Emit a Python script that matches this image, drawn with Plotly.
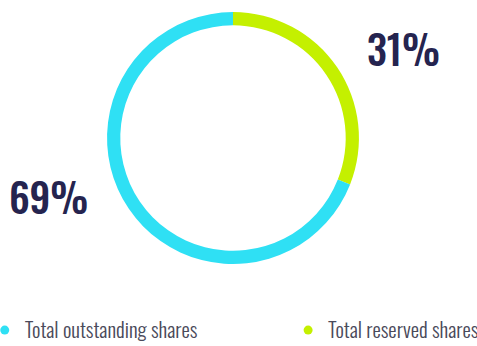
import plotly.graph_objects as go

# Share breakdown
categories = ["Total outstanding shares", "Total reserved shares"]
shares_pct = [69, 31]
colors = ["#2fe0f4", "#c4f000"]

TEXT_COLOR = "#25244f"
FONT = "Oswald, Roboto Condensed, sans-serif"

fig = go.Figure()

# Ring: reserved slice starts at 12 o'clock and runs clockwise
fig.add_trace(go.Pie(
    labels=[categories[1], categories[0]],
    values=[shares_pct[1], shares_pct[0]],
    marker=dict(colors=[colors[1], colors[0]], line=dict(width=0)),
    hole=0.895,
    sort=False,
    direction="clockwise",
    rotation=0,
    textinfo="none",
    hoverinfo="label+percent",
    showlegend=False,
    domain=dict(x=[0.2243, 0.7526], y=[0.237, 0.965]),
))

# Legend entries with round markers, one legend box per series
for i, (name, col) in enumerate(zip(categories, colors)):
    fig.add_trace(go.Scatter(
        x=[None], y=[None], mode="markers", name=name,
        marker=dict(color=col, size=9, symbol="circle"),
        legend="legend" if i == 0 else "legend2",
    ))

# Percentage labels beside the ring
fig.add_annotation(x=0.101, y=0.433, xref="paper", yref="paper",
                   text=f"{shares_pct[0]}%", showarrow=False,
                   font=dict(family=FONT, size=40, weight=500, color=TEXT_COLOR),
                   xanchor="center", yanchor="middle")
fig.add_annotation(x=0.845, y=0.861, xref="paper", yref="paper",
                   text=f"{shares_pct[1]}%", showarrow=False,
                   font=dict(family=FONT, size=40, weight=500, color=TEXT_COLOR),
                   xanchor="center", yanchor="middle")

legend_style = dict(
    orientation="h", y=0.045, yanchor="middle", xanchor="left",
    font=dict(family=FONT, size=21, weight=300, color="#4a4a5a"),
    itemwidth=30, bgcolor="rgba(0,0,0,0)",
)

fig.update_layout(
    width=477, height=346,
    margin=dict(l=0, r=0, t=0, b=0, autoexpand=False),
    paper_bgcolor="white", plot_bgcolor="white",
    xaxis=dict(visible=False), yaxis=dict(visible=False),
    legend=dict(x=-0.032, **legend_style),
    legend2=dict(x=0.604, **legend_style),
)

fig.write_html("out.html")
